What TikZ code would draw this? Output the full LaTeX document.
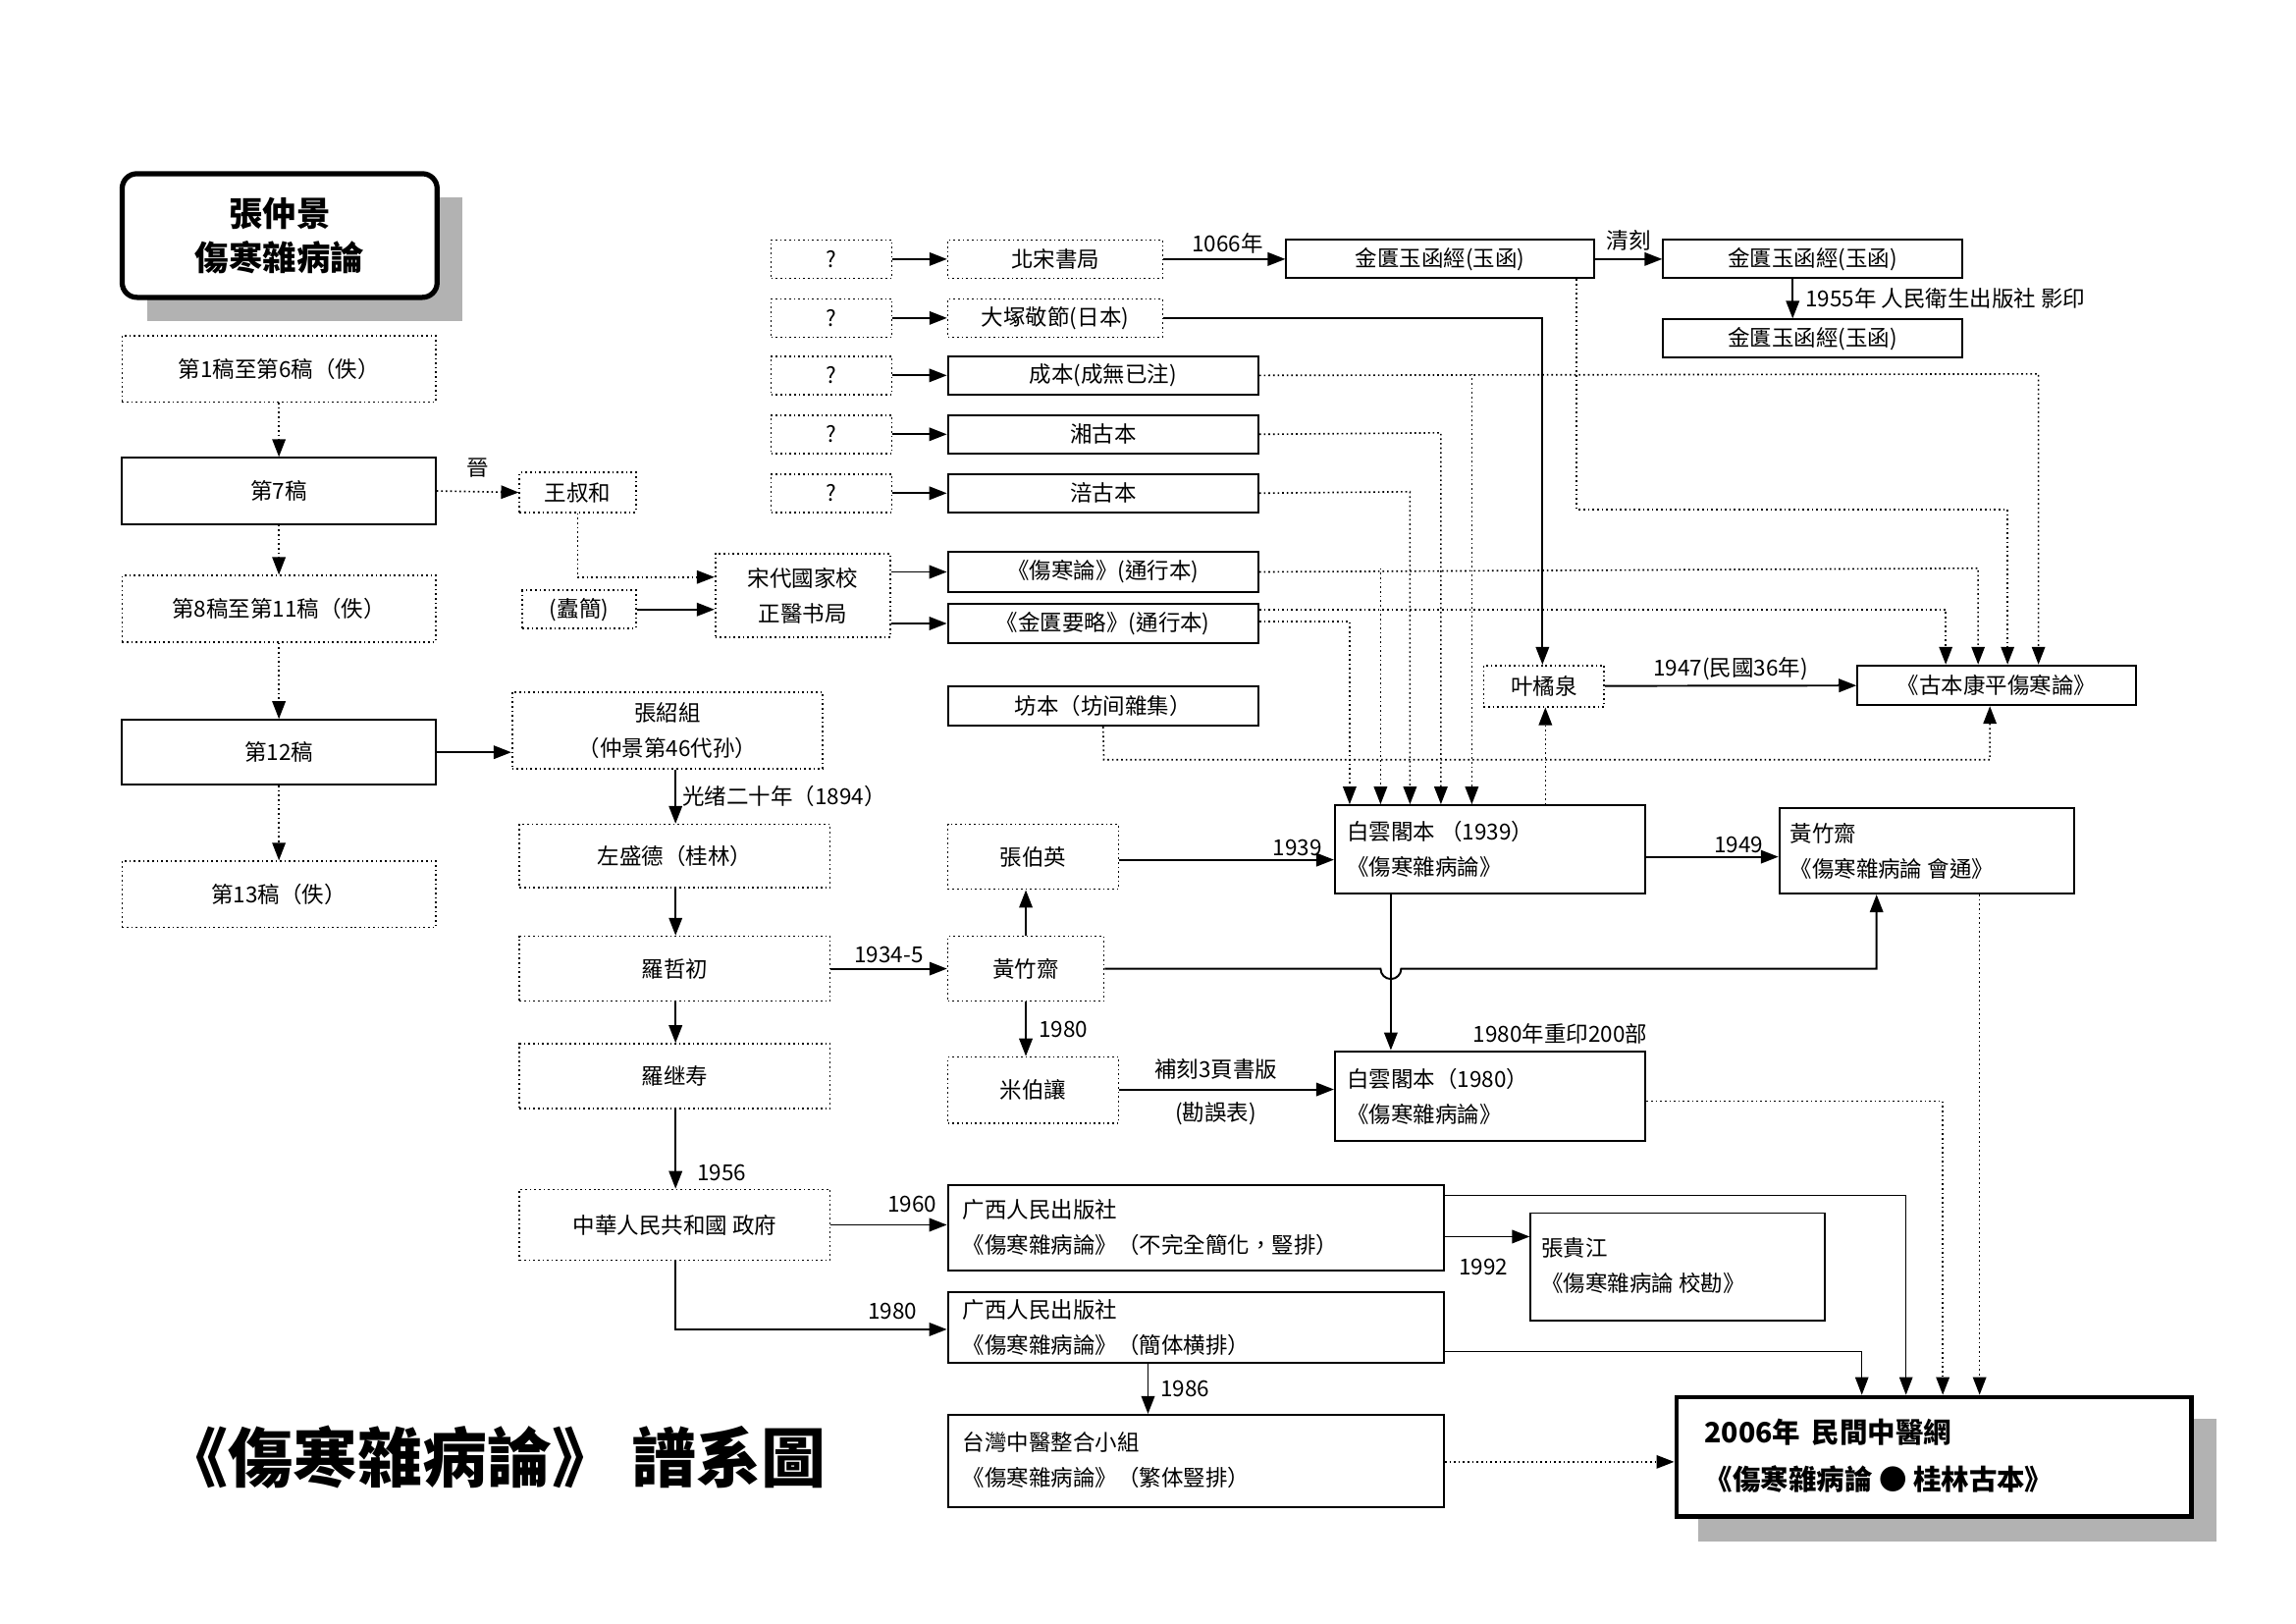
\documentclass[tikz,border=0pt]{standalone}
\usepackage{fontspec}
\setmainfont{Noto Sans CJK TC}
\usetikzlibrary{arrows.meta}
\newcommand\bx[7]{\node[#6, minimum width={(#4-#2)*1pt}, minimum height={(#5-#3)*1pt}] (#1) at ({(#2+#4)/2},{(#3+#5)/2}) {#7};}
\begin{document}
\begin{tikzpicture}[x=1pt,y=-1pt,
  every node/.style={font=\fontsize{15}{24}\selectfont, inner sep=0pt},
  sb/.style={draw, line width=1.3pt},
  db/.style={draw, dotted, line width=1.1pt},
  tb/.style={draw, line width=3.5pt, rounded corners=10pt, fill=white, align=center},
  lt/.style={anchor=west, align=left},
  lb/.style={font=\fontsize{15}{18}\selectfont},
  ar/.style={line width=1.3pt, -{Triangle[length=12pt,width=9pt]}},
  da/.style={line width=1.1pt, dotted, -{Triangle[length=12pt,width=9pt]}},
  ta/.style={line width=0.7pt, -{Triangle[length=12pt,width=9pt]}}]
\useasboundingbox (0,0) rectangle (1560,1103);
% shadows
\fill[gray!60] (100,134) rectangle (314,218);
\fill[gray!60] (1154,964) rectangle (1506,1047);
\bx{zzj}{83}{118}{297}{202}{tb}{\fontsize{23}{34}\selectfont\bfseries 張仲景\\[6pt]\fontsize{23}{34}\selectfont\bfseries 傷寒雜病論}
% left column
\bx{d1}{83}{228}{296}{273}{db}{第1稿至第6稿（佚）}
\bx{d7}{83}{311}{296}{356}{sb}{第7稿}
\bx{d8}{83}{391}{296}{436}{db}{第8稿至第11稿（佚）}
\bx{d12}{83}{489}{296}{533}{sb}{第12稿}
\bx{d13}{83}{585}{296}{630}{db}{第13稿（佚）}
\bx{wsh}{353}{321}{432}{348}{db}{王叔和}
\bx{zj}{355}{401}{432}{427}{db}{(蠹簡)}
\bx{song}{486}{376}{605}{433}{db,align=center}{宋代國家校\\正醫书局}
% ? column
\bx{q1}{524}{163}{606}{189}{db}{?}
\bx{q2}{524}{203}{606}{229}{db}{?}
\bx{q3}{524}{242}{606}{268}{db}{?}
\bx{q4}{524}{282}{606}{308}{db}{?}
\bx{q5}{524}{322}{606}{348}{db}{?}
\bx{bs}{644}{163}{790}{189}{db}{北宋書局}
\bx{dz}{644}{203}{790}{229}{db}{大塚敬節(日本)}
\bx{cb}{644}{242}{855}{268}{sb}{成本(成無已注)}
\bx{xg}{644}{282}{855}{308}{sb}{湘古本}
\bx{fg}{644}{322}{855}{348}{sb}{涪古本}
\bx{shl}{644}{375}{855}{402}{sb}{《傷寒論》(通行本)}
\bx{jgy}{644}{410}{855}{437}{sb}{《金匱要略》(通行本)}
\bx{fb}{644}{466}{855}{493}{sb}{坊本（坊间雜集）}
\bx{jg1}{874}{163}{1083}{189}{sb}{金匱玉函經(玉函)}
\bx{jg2}{1130}{163}{1333}{189}{sb}{金匱玉函經(玉函)}
\bx{jg3}{1130}{217}{1333}{243}{sb}{金匱玉函經(玉函)}
\bx{yjq}{1008}{452}{1090}{480}{db}{叶橘泉}
\bx{gb}{1262}{452}{1451}{479}{sb}{《古本康平傷寒論》}
% middle
\bx{zsz}{348}{470}{559}{522}{db,align=center}{張紹組\\（仲景第46代孙）}
\bx{zsd}{353}{560}{564}{603}{db}{左盛德（桂林）}
\bx{lzc}{353}{636}{564}{680}{db}{羅哲初}
\bx{ljs}{353}{709}{564}{753}{db}{羅继寿}
\bx{zh}{353}{808}{564}{856}{db}{中華人民共和國 政府}
\bx{zby}{644}{560}{760}{604}{db}{張伯英}
\bx{hzz}{644}{636}{750}{680}{db}{黃竹齋}
\bx{mbr}{644}{718}{760}{763}{db}{米伯讓}
\bx{bya}{907}{547}{1118}{607}{sb}{}
\node[lt] (byat) at (915,577) {白雲閣本 （1939）\\《傷寒雜病論》};
\bx{hzh}{1209}{549}{1409}{607}{sb}{}
\node[lt] (hzht) at (1216,578) {黃竹齋\\《傷寒雜病論 會通》};
\bx{by80}{907}{714}{1118}{775}{sb}{}
\node[lt] (by80t) at (915,745) {白雲閣本（1980）\\《傷寒雜病論》};
\bx{gx1}{644}{805}{981}{863}{sb}{}
\node[lt] (gx1t) at (654,834) {广西人民出版社\\《傷寒雜病論》（不完全簡化，豎排）};
\bx{zgj}{1040}{824}{1240}{897}{sb}{}
\node[lt] (zgjt) at (1047,860) {張貴江\\《傷寒雜病論 校勘》};
\bx{gx2}{644}{878}{981}{926}{sb}{}
\node[lt] (gx2t) at (654,902) {广西人民出版社\\《傷寒雜病論》（簡体横排）};
\bx{tw}{644}{961}{981}{1024}{sb}{}
\node[lt] (twt) at (654,992) {台灣中醫整合小組\\《傷寒雜病論》（繁体豎排）};
\bx{fin}{1139}{949}{1489}{1030}{sb,line width=3pt,fill=white}{}
\node[lt] (fint) at (1158,989) {\fontsize{19}{34}\selectfont\bfseries 2006年 \,民間中醫網\\[8pt]\fontsize{19}{34}\selectfont\bfseries《傷寒雜病論 ● 桂林古本》};
\node (title) at (336,990) {\fontsize{44}{50}\selectfont\bfseries《傷寒雜病論》 譜系圖};
% left column arrows
\draw[da] (d1) -- (d7);
\draw[da] (d7) -- (d8);
\draw[da] (d8) -- (d12);
\draw[da] (d12) -- (d13);
\draw[da] (d7.east) -- node[above=9pt,lb]{晉} (wsh.west);
\draw[da] (wsh.south) |- (song.west |- 0,392);
\draw[ar] (zj.east) -- (zj.east -| song.west);
\draw[ar] (song.east |- shl) -- (shl.west);
\draw[ar] (song.east |- jgy) -- (jgy.west);
\draw[ar] (q1) -- (bs); \draw[ar] (q2) -- (dz); \draw[ar] (q3) -- (cb);
\draw[ar] (q4) -- (xg); \draw[ar] (q5) -- (fg);
\draw[ar] (bs) -- node[above=3pt,lb,xshift=2pt]{1066年} (jg1);
\draw[ar] (jg1) -- node[above=5pt,lb]{清刻} (jg2);
\draw[ar] (1218,189) -- (1218,0 |- jg3.north) node[midway,right=8pt,lb]{1955年 人民衛生出版社 影印};
\draw[ar] (dz.east) -- (1048,216) -- (1048,0 |- yjq.north);
% dotted feeders
\draw[da] (cb.east) -- (1385,254) -- (1385,0 |- gb.north);
\draw[da] (1000,254) -- (1000,0 |- bya.north);
\draw[da] (xg.east) -- (979,294) -- (979,0 |- bya.north);
\draw[da] (fg.east) -- (958,334) -- (958,0 |- bya.north);
\draw[da] (shl.east) -- (1344,386) -- (1344,0 |- gb.north);
\draw[da] (938,386) -- (938,0 |- bya.north);
\draw[da] (jgy.east |- 0,414) -- (1322,414) -- (1322,0 |- gb.north);
\draw[da] (jgy.east |- 0,422) -- (917,422) -- (917,0 |- bya.north);
\draw[da] (1071,0 |- jg1.south) -- (1071,346) -- (1364,346) -- (1364,0 |- gb.north);
\draw[da] (fb.south) -- (750,516) -- (1352,516) -- (1352,0 |- gb.south);
\draw[da] (1050,0 |- bya.north) -- (1050,0 |- yjq.south);
\draw[ar] (yjq) -- node[above=3pt,lb]{1947(民國36年)} (gb);
% middle chain
\draw[ar] (d12) -- (d12 -| zsz.west);
\draw[ar] (459,0 |- zsz.south) -- (459,0 |- zsd.north) node[midway,right=4pt,lb]{光绪二十年（1894）};
\draw[ar] (459,0 |- zsd.south) -- (459,0 |- lzc.north);
\draw[ar] (459,0 |- lzc.south) -- (459,0 |- ljs.north);
\draw[ar] (459,0 |- ljs.south) -- (459,0 |- zh.north) node[pos=0.8,right=14pt,lb]{1956};
\draw[ar] (lzc) -- node[above=3pt,lb]{1934-5} (hzz);
\draw[ar] (697,0 |- hzz.north) -- (697,0 |- zby.south);
\draw[ar] (697,0 |- hzz.south) -- (697,0 |- mbr.north) node[midway,right=8pt,lb]{1980};
\draw[ar] (zby.east |- 0,584) -- node[above=2pt,lb,pos=0.83]{1939} (bya.west |- 0,584);
\draw[ar] (bya.east |- 0,582) -- node[above=2pt,lb,pos=0.7]{1949} (hzh.west |- 0,582);
\draw[ar] (hzz.east) -- (938,658) arc(180:0:7) -- (1275,658) -- (1275,0 |- hzh.south);
\draw[ar] (945,0 |- bya.south) -- (945,0 |- by80.north);
\node[lb] (l1980b) at (1060,702) {1980年重印200部};
\draw[ar] (mbr.east |- 0,740) -- node[above=6pt,lb,pos=0.45]{補刻3頁書版} node[below=8pt,lb,pos=0.45]{(勘誤表)} (by80.west |- 0,740);
\draw[ar] (zh.east |- 0,832) -- node[above=8pt,lb,pos=0.7]{1960} (gx1.west |- 0,832);
\draw[ar] (459,0 |- zh.south) |- node[pos=0.9,above=6pt,lb]{1980} (gx2.west |- 0,903);
\draw[ar] (gx1.east |- 0,840) -- (zgj.west |- 0,840);
\node[lb] (l1992) at (1008,861) {1992};
\draw[ar] (780,0 |- gx2.south) -- (780,0 |- tw.north) node[midway,right=8pt,lb]{1986};
% into final
\draw[da] (tw.east |- 0,993) -- (fin.west |- 0,993);
\draw[ta] (gx2.east |- 0,918) -- (1265,918) -- (1265,0 |- fin.north);
\draw[ta] (gx1.east |- 0,812) -- (1295,812) -- (1295,0 |- fin.north);
\draw[da] (by80.east |- 0,748) -- (1320,748) -- (1320,0 |- fin.north);
\draw[da] (1345,0 |- hzh.south) -- (1345,0 |- fin.north);
\end{tikzpicture}
\end{document}
